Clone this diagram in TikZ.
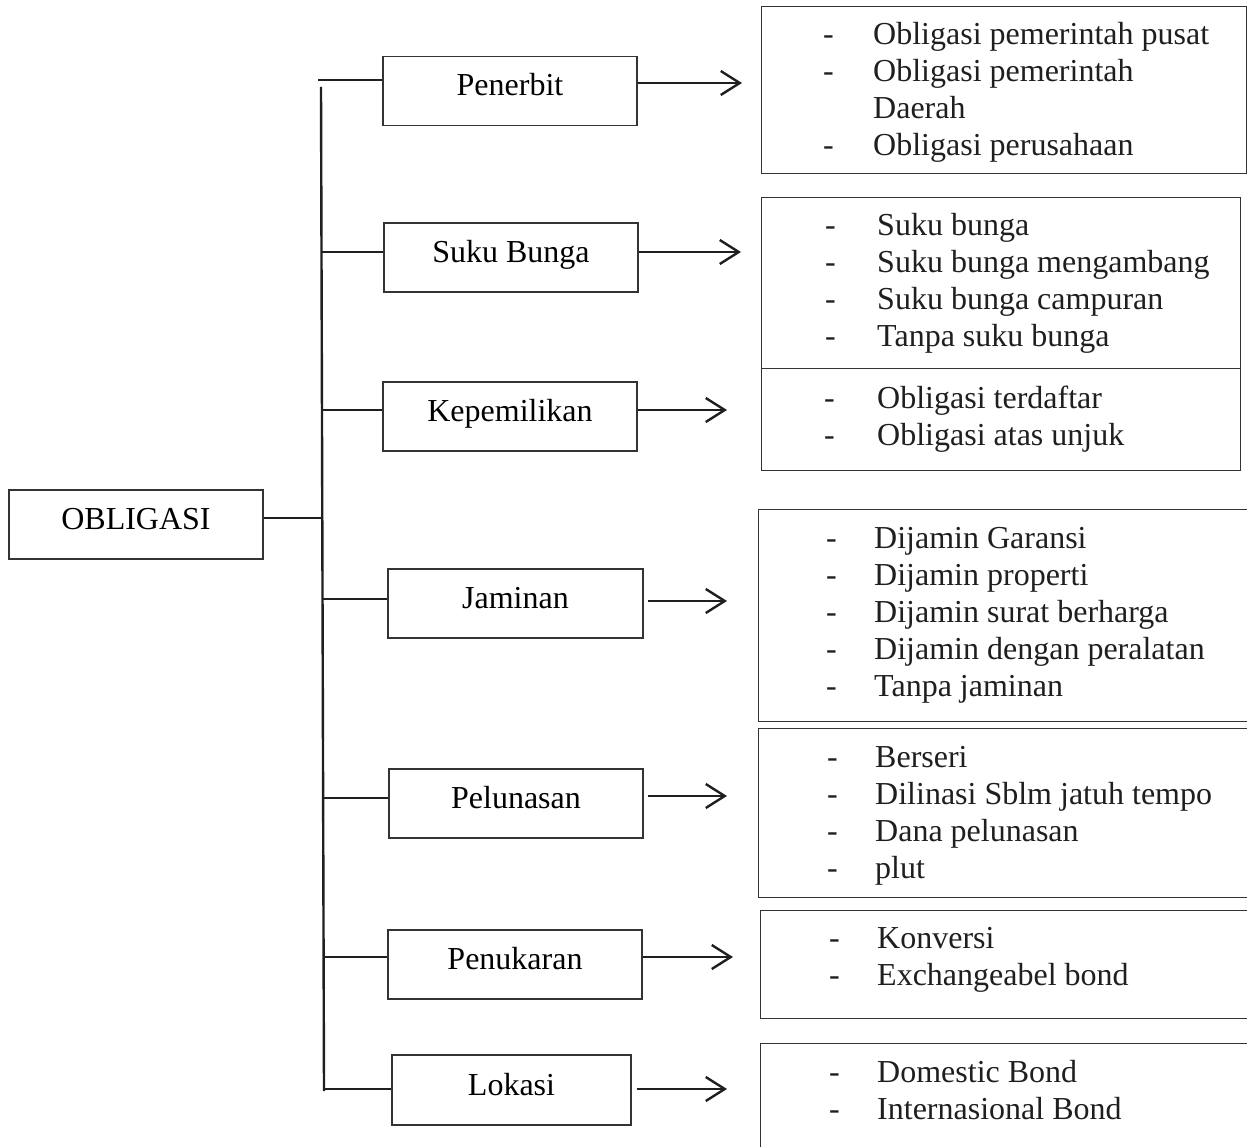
\documentclass[tikz,border=0pt]{standalone}
\usepackage{fontspec}
\setmainfont{Liberation Serif}
\usetikzlibrary{arrows.meta}
\begin{document}
\begin{tikzpicture}[x=1pt,y=-1pt,
  lbox/.style={draw=black!80, line width=1.4pt, minimum width=254pt, minimum height=69pt, inner sep=0pt, text height=21pt, text depth=11pt, font=\fontsize{32}{37}\selectfont},
  rbox/.style={draw=black!80, line width=1.4pt, inner sep=0pt, anchor=north west},
  conn/.style={line width=2.4pt, draw=black!88},
  arr/.style={conn, -{Straight Barb[length=19pt,width=24pt]}},
  itemtext/.style={anchor=base west, inner sep=0pt, font=\fontsize{32}{37}\selectfont, text=black!88},
  hyph/.style={anchor=base west, inner sep=0pt, font=\fontsize{32}{37}\selectfont, text=black!88},
]
\useasboundingbox (0,0) rectangle (1247,1147);
\clip (0,0) rectangle (1247,1147);

% left boxes
\node[lbox] (obl) at (136,524.5) {OBLIGASI};
\node[lbox] (pen) at (510,91) {Penerbit};
\node[lbox] (suk) at (511,257.5) {Suku Bunga};
\node[lbox] (kep) at (510,416.5) {Kepemilikan};
\node[lbox, minimum width=255pt] (jam) at (515.5,603.5) {Jaminan};
\node[lbox] (pel) at (516,803.5) {Pelunasan};
\node[lbox] (ptk) at (515,964.5) {Penukaran};
\node[lbox, minimum width=239pt, minimum height=70pt] (lok) at (511.5,1090) {Lokasi};

% trunk
\coordinate (vtop) at (321,87);
\coordinate (vbot) at (324,1091);
\draw[conn] (vtop) -- (vbot);

% branch starts
\coordinate (bo) at (322,518);
\coordinate (b1) at (318,80);
\coordinate (b2) at (321,252);
\coordinate (b3) at (321,410);
\coordinate (b4) at (323,599);
\coordinate (b5) at (323,798);
\coordinate (b6) at (323,957);
\coordinate (b7) at (323,1089);
\draw[conn] (bo -| obl.east) -- (bo);
\draw[conn] (b1) -- (b1 -| pen.west);
\draw[conn] (b2) -- (b2 -| suk.west);
\draw[conn] (b3) -- (b3 -| kep.west);
\draw[conn] (b4) -- (b4 -| jam.west);
\draw[conn] (b5) -- (b5 -| pel.west);
\draw[conn] (b6) -- (b6 -| ptk.west);
\draw[conn] (b7) -- (b7 -| lok.west);

% arrow tips
\coordinate (t1) at (742,83);
\coordinate (t2) at (741,252);
\coordinate (t3) at (727,410);
\coordinate (t4) at (727,601);
\coordinate (t5) at (727,796);
\coordinate (t6) at (733,957);
\coordinate (t7) at (727,1089);
\draw[arr] (t1 -| pen.east) -- (t1);
\draw[arr] (t2 -| suk.east) -- (t2);
\draw[arr] (t3 -| kep.east) -- (t3);
\draw[arr] ([xshift=4pt]t4 -| jam.east) -- (t4);
\draw[arr] ([xshift=4pt]t5 -| pel.east) -- (t5);
\draw[arr] (t6 -| ptk.east) -- (t6);
\draw[arr] ([xshift=5pt]t7 -| lok.east) -- (t7);

% right boxes
\node[rbox, minimum width=485pt, minimum height=167pt] (r1) at (761,6) {};
\node[rbox, minimum width=479pt, minimum height=171pt] (r2) at (761,197) {};
\node[rbox, minimum width=479pt, minimum height=102pt] (r3) at (761,368) {};
\node[rbox, minimum width=489pt, minimum height=212pt] (r4) at (758,509) {};
\node[rbox, minimum width=489pt, minimum height=169pt] (r5) at (758,728) {};
\node[rbox, minimum width=487pt, minimum height=108pt] (r6) at (760,910) {};
\node[rbox, minimum width=487pt, minimum height=200pt] (r7) at (760,1043) {};

% items box 1
\node[hyph] (r1d1) at (823,45) {-};
\node[itemtext] (r1t1) at (873,45) {Obligasi pemerintah pusat};
\node[hyph] (r1d2) at (823,82) {-};
\node[itemtext] (r1t2) at (873,82) {Obligasi pemerintah};
\node[itemtext] (r1t3) at (873,119) {Daerah};
\node[hyph] (r1d4) at (823,156) {-};
\node[itemtext] (r1t4) at (873,156) {Obligasi perusahaan};

% items box 2
\node[hyph] (r2d1) at (825,236) {-};
\node[itemtext] (r2t1) at (877,236) {Suku bunga};
\node[hyph] (r2d2) at (825,273) {-};
\node[itemtext] (r2t2) at (877,273) {Suku bunga mengambang};
\node[hyph] (r2d3) at (825,310) {-};
\node[itemtext] (r2t3) at (877,310) {Suku bunga campuran};
\node[hyph] (r2d4) at (825,347) {-};
\node[itemtext] (r2t4) at (877,347) {Tanpa suku bunga};

% items box 3
\node[hyph] (r3d1) at (824,408) {-};
\node[itemtext] (r3t1) at (877,408) {Obligasi terdaftar};
\node[hyph] (r3d2) at (824,445) {-};
\node[itemtext] (r3t2) at (877,445) {Obligasi atas unjuk};

% items box 4
\node[hyph] (r4d1) at (826,548) {-};
\node[itemtext] (r4t1) at (874,548) {Dijamin Garansi};
\node[hyph] (r4d2) at (826,585) {-};
\node[itemtext] (r4t2) at (874,585) {Dijamin properti};
\node[hyph] (r4d3) at (826,622) {-};
\node[itemtext] (r4t3) at (874,622) {Dijamin surat berharga};
\node[hyph] (r4d4) at (826,659) {-};
\node[itemtext] (r4t4) at (874,659) {Dijamin dengan peralatan};
\node[hyph] (r4d5) at (826,696) {-};
\node[itemtext] (r4t5) at (874,696) {Tanpa jaminan};

% items box 5
\node[hyph] (r5d1) at (827,767) {-};
\node[itemtext] (r5t1) at (875,767) {Berseri};
\node[hyph] (r5d2) at (827,804) {-};
\node[itemtext] (r5t2) at (875,804) {Dilinasi Sblm jatuh tempo};
\node[hyph] (r5d3) at (827,841) {-};
\node[itemtext] (r5t3) at (875,841) {Dana pelunasan};
\node[hyph] (r5d4) at (827,878) {-};
\node[itemtext] (r5t4) at (875,878) {plut};

% items box 6
\node[hyph] (r6d1) at (829,948) {-};
\node[itemtext] (r6t1) at (877,948) {Konversi};
\node[hyph] (r6d2) at (829,985) {-};
\node[itemtext] (r6t2) at (877,985) {Exchangeabel bond};

% items box 7
\node[hyph] (r7d1) at (829,1082) {-};
\node[itemtext] (r7t1) at (877,1082) {Domestic Bond};
\node[hyph] (r7d2) at (829,1119) {-};
\node[itemtext] (r7t2) at (877,1119) {Internasional Bond};
\end{tikzpicture}
\end{document}
